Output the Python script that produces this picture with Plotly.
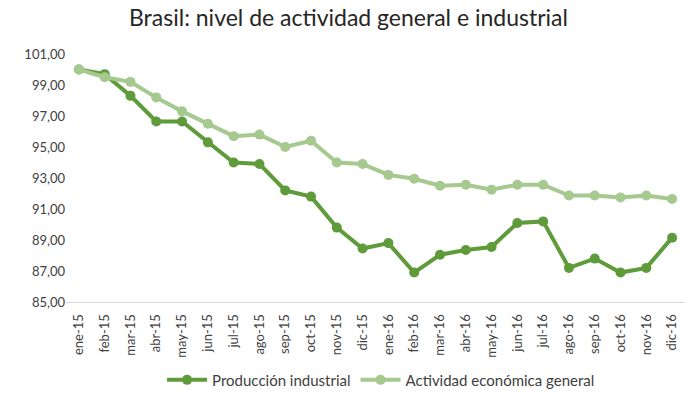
import plotly.graph_objects as go

meses = ["ene-15","feb-15","mar-15","abr-15","may-15","jun-15","jul-15","ago-15","sep-15","oct-15","nov-15","dic-15",
         "ene-16","feb-16","mar-16","abr-16","may-16","jun-16","jul-16","ago-16","sep-16","oct-16","nov-16","dic-16"]
produccion = [100.0, 99.7, 98.3, 96.65, 96.65, 95.3, 94.0, 93.9, 92.2, 91.8, 89.8, 88.45,
              88.8, 86.9, 88.05, 88.35, 88.55, 90.1, 90.2, 87.2, 87.8, 86.9, 87.2, 89.15]
actividad = [100.0, 99.5, 99.2, 98.2, 97.3, 96.5, 95.7, 95.8, 95.0, 95.4, 94.0, 93.9,
             93.2, 92.95, 92.5, 92.57, 92.25, 92.57, 92.57, 91.87, 91.87, 91.75, 91.87, 91.65]
yticks = [85, 87, 89, 91, 93, 95, 97, 99, 101]

FONT = "Lato, 'Open Sans', sans-serif"
c_prod = "#5f9b3b"
c_act = "#a5c98e"

fig = go.Figure()
fig.add_trace(go.Scatter(x=meses, y=produccion, name="Producción industrial", mode="lines+markers",
                         line=dict(color=c_prod, width=4), marker=dict(color=c_prod, size=10)))
fig.add_trace(go.Scatter(x=meses, y=actividad, name="Actividad económica general", mode="lines+markers",
                         line=dict(color=c_act, width=4), marker=dict(color=c_act, size=10)))

fig.update_layout(
    width=697, height=394,
    margin=dict(l=66, r=12, t=54, b=92, autoexpand=False),
    paper_bgcolor="white", plot_bgcolor="white",
    separators=",.",
    font=dict(family=FONT, size=12, color="#404040"),
    title=dict(text="Brasil: nivel de actividad general e industrial", x=0.5, xanchor="center",
               y=0.955, yanchor="middle", font=dict(family=FONT, size=23, color="#262626")),
    showlegend=True,
    legend=dict(orientation="h", x=0.509, xanchor="center", y=-0.315, yanchor="middle",
                font=dict(family=FONT, size=15, color="#404040"), itemwidth=40, tracegroupgap=0),
    xaxis=dict(type="category", range=[-0.5, len(meses) - 0.5], showgrid=False, showline=True,
               linecolor="#d9d9d9", linewidth=1, ticklabelstandoff=6,
               tickangle=-90, ticks="", tickfont=dict(family=FONT, size=13, color="#404040"),
               zeroline=False, automargin=False),
    yaxis=dict(range=[85, 101], tickvals=yticks, tickformat=".2f", showgrid=False, zeroline=False,
               showline=False, ticks="", tickfont=dict(family=FONT, size=13, color="#404040"),
               automargin=False),
)

fig.write_html("out.html", config={"displayModeBar": False},
               post_script="document.body.style.margin='0';")
